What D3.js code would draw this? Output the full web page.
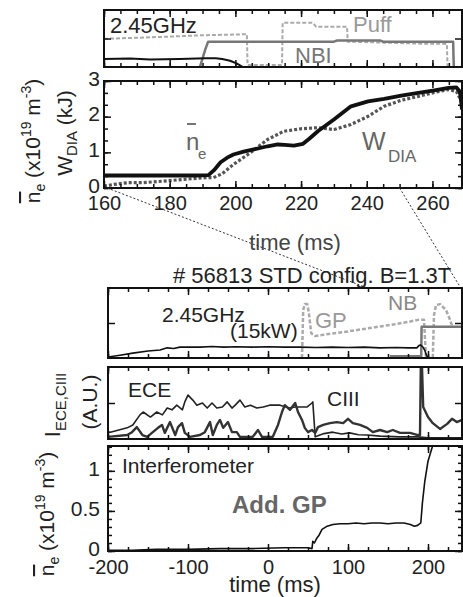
<!DOCTYPE html>
<html><head><meta charset="utf-8">
<script src="https://cdn.jsdelivr.net/npm/d3@7"></script>
<style>
body{margin:0;background:#fff}
svg{display:block}
</style></head><body>
<svg id="fig" width="463" height="597"></svg>
<script>
// ---------- upper plot: NBI phase, 160-270 ms ----------
const upperTimeTicks = [160, 180, 200, 220, 240, 260];
const upperMinorTicks = d3.range(160, 270, 5);
const wdiaTicks = [0, 1, 2, 3];
const wdiaMinorTicks = d3.range(0, 3.01, 1 / 3);

// heating waveforms (arb. units)
const rfUpper = [[160,0.28],[168,0.30],[174,0.26],[183,0.28],[191,0.31],[194,0.31],[196,0.28],[198.4,0.22],[200.5,0.12],[202.3,0]];
const nbiUpper = [[189.2,0],[190.8,0.6],[191.7,0.89],[230,0.89],[231,0.93],[244,0.93],[245,0.89],[266.3,0.89],[266.5,0]];
const puffUpper = [[160,0.99],[174,1.04],[189.2,1.11],[203.5,1.15],[203.7,0.07],[214.2,0.07],[214.4,1.55],[223.6,1.55],[224.6,1.41],[234,1.41],[234.2,0.89],[244,0.86],[256.2,0.82],[264.4,0.81],[264.6,0]];

// line density and diamagnetic energy
const neUpper = [[160,0.35],[170,0.35],[180,0.35],[188,0.35],[191.8,0.36],[193.5,0.5],[195.5,0.72],[197.5,0.85],[199.4,0.94],[202.5,1.02],[205.6,1.08],[209.8,1.17],[212.9,1.22],[215,1.21],[217.8,1.19],[220.6,1.24],[222.5,1.38],[225.1,1.59],[230,1.92],[235.2,2.29],[240.4,2.43],[245.3,2.50],[250.5,2.59],[255.7,2.67],[260.6,2.74],[264.9,2.81],[267.3,2.82],[268.4,2.70],[269,2.2]];
const wdiaUpper = [[160,0.05],[163,0.1],[167.3,0.15],[172,0.15],[177.7,0.19],[184,0.24],[190.9,0.29],[193.3,0.29],[196,0.4],[199.4,0.66],[204.6,0.99],[209.8,1.36],[214.7,1.59],[219.9,1.66],[225.1,1.69],[230,1.64],[235.2,1.78],[240.4,2.01],[245.3,2.29],[250.5,2.46],[255.7,2.57],[260.6,2.68],[264.9,2.76],[267.3,2.71],[269,2.40]];

// ---------- lower plot: whole discharge, -200-240 ms ----------
const lowerTimeTicks = [-200, -100, 0, 100, 200];
const lowerMinorTicks = d3.range(-200, 243, 25);
const densTicks = [0, 0.5, 1];
const densMinorTicks = d3.range(0, 1.31, 0.1);

const rfLower = [[-200,0.03],[-185,0.08],[-169,0.14],[-150,0.2],[-135,0.23],[-126,0.29],[-118,0.27],[-110,0.31],[-100,0.31],[-85,0.31],[-70,0.33],[-55,0.31],[-40,0.32],[-20,0.31],[0,0.32],[20,0.31],[40,0.31],[60,0.30],[80,0.31],[100,0.30],[120,0.31],[140,0.29],[160,0.30],[175,0.29],[186,0.29],[189,0.36],[191,0.37],[194,0.30],[196,0.22],[198,0.08],[200,0]];
const gpLower = [[42.5,0],[44,1.37],[46,1.54],[49,1.54],[51,1.31],[54,0.71],[59,0.63],[80,0.70],[100,0.76],[120,0.83],[140,0.90],[160,0.97],[175,1.03],[187.5,1.09],[195,1.09],[197.5,0],[206,0],[207.5,1.23],[210,1.51],[215,1.54],[222.5,1.37],[227.5,1.09],[231,0.86]];
const nbLower = [[152.5,0.05],[191.5,0.05],[192,0.89],[242.5,0.89]];

const eceLower = [[-200,0.19],[-197,0.19],[-176,0.31],[-169,0.39],[-160,0.67],[-156,0.75],[-147,0.61],[-139,0.75],[-132,0.67],[-126,0.86],[-120,0.81],[-114,0.94],[-107,0.81],[-104,1.03],[-100,1.22],[-94,1.08],[-89,0.94],[-82,1.0],[-76,0.86],[-70,1.0],[-64,0.86],[-57,0.89],[-51,1.03],[-45,0.86],[-41,0.94],[-35,1.08],[-29,0.89],[-22,0.94],[-14,0.86],[-6,0.89],[2,0.94],[15,0.94],[27,0.86],[34,0.89],[42,0.89],[49,0.89],[55,1.0],[56,1.03],[59,0.06],[70,0.15],[81,0.19],[92,0.14],[102,0.17],[113,0.12],[124,0.11],[140,0.08],[165,0.06],[187,0.06],[200,0.03],[242.5,0.03]];
const ciiiLower = [[-200,0.06],[-176,0.11],[-170,0.19],[-164,0.33],[-157,0.11],[-151,0.06],[-144,0.19],[-137.5,0.31],[-132.5,0.39],[-129,0.17],[-122.5,0.47],[-116,0.11],[-112.5,0.33],[-107.5,0.44],[-104,0.17],[-97.5,0.06],[-85,0.11],[-79,0.19],[-72.5,0.47],[-69,0.11],[-64,0.39],[-60,0.53],[-56,0.31],[-50,0.47],[-45,0.19],[-39,0.19],[-35,0.06],[-19,0.06],[-12.5,0.25],[-7.5,0.06],[6,0.06],[12.5,0.39],[17.5,0.75],[21,0.94],[27.5,0.81],[34,1.0],[37.5,0.75],[42.5,0.53],[46,0.31],[50,0.19],[55,0.25],[59,0.17],[62.5,0.33],[69,0.39],[77.5,0.44],[86,0.47],[94,0.44],[100,0.56],[106,0.44],[115,0.39],[124,0.31],[131,0.19],[140,0.25],[149,0.19],[156,0.25],[165,0.17],[177.5,0.17],[187.5,0.11],[190,0.11],[191,2.0],[192.5,2.0],[194,0.89],[200,0.61],[206,0.44],[215,0.28],[224,0.42],[230,0.56],[236,0.47],[242.5,0.53]];

const densLower = [[-200,0.01],[-170,0.01],[-140,0.02],[-100,0.02],[-60,0.03],[-20,0.03],[20,0.04],[50,0.04],[55,0.03],[56,0.12],[58,0.10],[61,0.16],[64,0.2],[67.5,0.27],[74,0.31],[81,0.33],[90,0.34],[100,0.34],[110,0.35],[120,0.34],[130,0.35],[140,0.35],[150,0.34],[160,0.35],[170,0.35],[178,0.33],[183,0.31],[187,0.32],[191,0.35],[193,0.6],[196,0.87],[200,1.12],[206,1.32]];

// zoom connectors: upper-plot time -> lower-plot time
const zoomFrom = [161, 250];
const zoomTo = [124, 241];

// ---------- scales ----------
const FONT = '"Liberation Sans", Arial, Helvetica, sans-serif';
const svg = d3.select("#fig").attr("font-family", FONT);

const xTop = d3.scaleLinear().domain([160, 269]).range([104, 462]);
const xBot = d3.scaleLinear().domain([-200, 242.5]).range([108, 462]);
const yA = d3.scaleLinear().domain([0, 2]).range([67, 10]);
const yB = d3.scaleLinear().domain([0, 3]).range([188, 81]);
const yC = d3.scaleLinear().domain([0, 2]).range([358, 288]);
const yD = d3.scaleLinear().domain([0, 2]).range([439, 367]);
const yE = d3.scaleLinear().domain([0, 1.31]).range([551, 446]);

function tickRow(g, axisFn, scale, values, size, transform) {
  g.append("g").attr("transform", transform)
    .call(axisFn(scale).tickValues(values).tickSize(-size).tickSizeOuter(0).tickFormat(""))
    .call(s => s.select(".domain").remove())
    .call(s => s.selectAll("line").attr("stroke", "#111").attr("stroke-width", 1.5));
}

let clipId = 0;
function panel(x, y, t) {
  const [xl, xr] = x.range(), [yb, yt] = y.range();
  const g = svg.append("g");
  const id = "clip" + (clipId++);
  g.append("clipPath").attr("id", id).append("rect")
    .attr("x", xl).attr("y", yt).attr("width", xr - xl).attr("height", yb - yt);
  const plot = g.append("g").attr("clip-path", `url(#${id})`);
  const frame = g.append("g");
  for (const [vals, len] of [[t.xMinor, 4], [t.xMajor, 7]]) {
    tickRow(frame, d3.axisBottom, x, vals, len, `translate(0,${yb})`);
    tickRow(frame, d3.axisTop, x, vals, len, `translate(0,${yt})`);
  }
  for (const [vals, len] of [[t.yMinor, 4], [t.yMajor, 7]]) {
    tickRow(frame, d3.axisLeft, y, vals, len, `translate(${xl},0)`);
    tickRow(frame, d3.axisRight, y, vals, len, `translate(${xr},0)`);
  }
  frame.append("rect").attr("x", xl).attr("y", yt).attr("width", xr - xl).attr("height", yb - yt)
    .attr("fill", "none").attr("stroke", "#111").attr("stroke-width", 2);
  return plot;
}

function trace(g, x, y, data, style) {
  const line = d3.line().x(d => x(d[0])).y(d => y(d[1]));
  g.append("path").datum(data).attr("d", line).attr("fill", "none")
    .attr("stroke", style.color).attr("stroke-width", style.width)
    .attr("stroke-dasharray", style.dash || null)
    .attr("stroke-linejoin", "round");
}

function label(txt, x, y, size, color, opts = {}) {
  return svg.append("text").attr("x", x).attr("y", y).attr("font-size", size)
    .attr("fill", color).attr("font-weight", opts.bold ? "bold" : null)
    .attr("text-anchor", opts.anchor || "start").text(txt);
}

function styleLabels(s, size, dy) {
  s.select(".domain").remove();
  const t = s.selectAll("text").attr("font-size", size).attr("font-family", FONT).attr("fill", "#222");
  if (dy) t.attr("dy", dy);
}

// ---------- panel A: heating / fuelling ----------
const pA = panel(xTop, yA, {xMinor: upperMinorTicks, xMajor: upperTimeTicks, yMinor: [], yMajor: [1]});
trace(pA, xTop, yA, puffUpper, {color: "#aaa", width: 2, dash: "4,2"});
trace(pA, xTop, yA, nbiUpper, {color: "#777", width: 2.5});
trace(pA, xTop, yA, rfUpper, {color: "#111", width: 2});
label("2.45GHz", 110, 33, 22, "#222");
label("Puff", 353, 32, 22, "#999");
label("NBI", 295, 63, 22, "#777");

// ---------- panel B: density & W_DIA ----------
const pB = panel(xTop, yB, {xMinor: upperMinorTicks, xMajor: upperTimeTicks, yMinor: wdiaMinorTicks, yMajor: wdiaTicks});
trace(pB, xTop, yB, wdiaUpper, {color: "#555", width: 3.2, dash: "3,2"});
trace(pB, xTop, yB, neUpper, {color: "#111", width: 3.8});

label("n", 186, 150, 24, "#666");
svg.append("line").attr("x1", 187).attr("x2", 196).attr("y1", 124).attr("y2", 124)
  .attr("stroke", "#666").attr("stroke-width", 1.8);
label("e", 198, 159, 15, "#666");
label("W", 362, 150, 25, "#666");
label("DIA", 388, 162, 17, "#666");

svg.append("g").attr("transform", "translate(0,188)")
  .call(d3.axisBottom(xTop).tickValues(upperTimeTicks).tickSize(0).tickPadding(8).tickFormat(d => String(d)))
  .call(s => styleLabels(s, 20));
svg.append("g").attr("transform", "translate(104,0)")
  .call(d3.axisLeft(yB).tickValues(wdiaTicks).tickSize(0).tickPadding(4).tickFormat(d => String(d)))
  .call(s => styleLabels(s, 21, "0.2em"));
label("time (ms)", 295, 250, 22, "#444", {anchor: "middle"});

// rotated axis titles
function rotTitle(cx, cy, parts) {
  const t = svg.append("text").attr("transform", `translate(${cx},${cy}) rotate(-90)`)
    .attr("text-anchor", "middle").attr("font-size", 21).attr("fill", "#222");
  for (const p of parts) {
    const s = t.append("tspan").text(p.t);
    if (p.size) s.attr("font-size", p.size);
    if (p.dy) s.attr("dy", p.dy);
    if (p.over) s.attr("text-decoration", "overline");
  }
  return t;
}
const densTitle = [
  {t: "n", over: true}, {t: "e", size: 14, dy: 5}, {t: " (x10", dy: -5},
  {t: "19", size: 14, dy: -9}, {t: " m", dy: 9}, {t: "-3", size: 14, dy: -9}, {t: ")", dy: 9}
];
rotTitle(40, 141, densTitle);
rotTitle(72, 133, [{t: "W"}, {t: "DIA", size: 15, dy: 5}, {t: " (kJ)", dy: -5}]);

// ---------- connectors ----------
for (let i = 0; i < 2; i++) {
  svg.append("line")
    .attr("x1", xTop(zoomFrom[i])).attr("y1", yB(0))
    .attr("x2", xBot(zoomTo[i])).attr("y2", yC(2))
    .attr("stroke", "#333").attr("stroke-width", 1).attr("stroke-dasharray", "2,2");
}

label("# 56813 STD config. B=1.3T", 173, 283, 22, "#222");

// ---------- panel C: 2.45 GHz, GP, NB ----------
const pC = panel(xBot, yC, {xMinor: lowerMinorTicks, xMajor: lowerTimeTicks, yMinor: [], yMajor: [1]});
trace(pC, xBot, yC, gpLower, {color: "#aaa", width: 2.5, dash: "4,2"});
trace(pC, xBot, yC, nbLower, {color: "#777", width: 2.5});
trace(pC, xBot, yC, rfLower, {color: "#111", width: 1.6});
label("2.45GHz", 162, 322, 21, "#222");
label("(15kW)", 230, 338, 21, "#222");
label("GP", 315, 328, 22, "#999");
label("NB", 388, 310, 21, "#888");

// ---------- panel D: ECE & CIII ----------
const pD = panel(xBot, yD, {xMinor: lowerMinorTicks, xMajor: lowerTimeTicks, yMinor: [], yMajor: [1]});
trace(pD, xBot, yD, eceLower, {color: "#222", width: 1.6});
trace(pD, xBot, yD, ciiiLower, {color: "#333", width: 2.4});
label("ECE", 128, 397, 21, "#222");
label("CIII", 327, 406, 21, "#222");
rotTitle(60, 405, [{t: "I", size: 22}, {t: "ECE,CIII", size: 15, dy: 6}]);
rotTitle(97, 402, [{t: "(A.U.)"}]);

// ---------- panel E: interferometer density ----------
const pE = panel(xBot, yE, {xMinor: lowerMinorTicks, xMajor: lowerTimeTicks, yMinor: densMinorTicks, yMajor: densTicks});
trace(pE, xBot, yE, densLower, {color: "#111", width: 1.6});
label("Interferometer", 122, 473, 21, "#222");
label("Add. GP", 232, 513, 24, "#666", {bold: true});

svg.append("g").attr("transform", "translate(0,551)")
  .call(d3.axisBottom(xBot).tickValues(lowerTimeTicks).tickSize(0).tickPadding(9).tickFormat(d => String(d)))
  .call(s => styleLabels(s, 20));
svg.append("g").attr("transform", "translate(108,0)")
  .call(d3.axisLeft(yE).tickValues(densTicks).tickSize(0).tickPadding(8).tickFormat(d => String(d)))
  .call(s => styleLabels(s, 21, "0.22em"));
label("time (ms)", 275, 592, 22, "#222", {anchor: "middle"});
rotTitle(54, 514, densTitle);
</script>
</body></html>
